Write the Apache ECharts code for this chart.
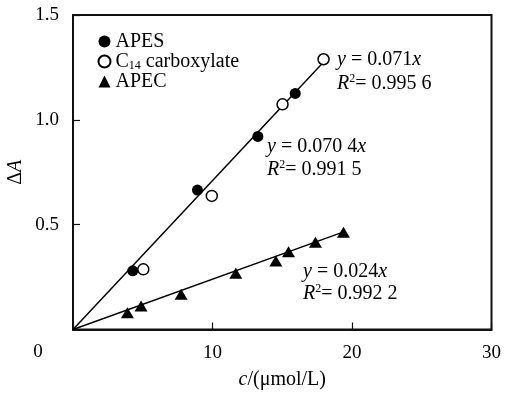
<!DOCTYPE html>
<html>
<head>
<meta charset="utf-8">
<script src="https://cdn.jsdelivr.net/npm/echarts@6/dist/echarts.min.js"></script>
<style>html,body{margin:0;padding:0;background:#fff}#c{width:519px;height:395px}</style>
</head>
<body>
<div id="c"></div>
<script>
// Data
const seriesNames = ['APES', 'C14 carboxylate', 'APEC'];
const apes = [[4.28, 0.280], [8.92, 0.665], [13.25, 0.921], [15.93, 1.126]];
const c14 = [[5.04, 0.287], [9.95, 0.637], [15.02, 1.074], [17.96, 1.289]];
const apec = [[3.90, 0.080], [4.88, 0.112], [7.75, 0.168], [11.67, 0.268], [14.54, 0.327], [15.45, 0.371], [17.38, 0.416], [19.39, 0.464]];
const fitSteep = [[0, 0], [18.1, 1.285]];
const fitApec = [[0, 0], [19.5, 0.468]];
const xTicks = [0, 10, 20, 30];
const yTicks = [0, 0.5, 1.0, 1.5];
const annotations = [
  { eq: '{i|y} = 0.071{i|x}', r2: '{i|R}{sup|2}= 0.995 6' },
  { eq: '{i|y} = 0.070 4{i|x}', r2: '{i|R}{sup|2}= 0.991 5' },
  { eq: '{i|y} = 0.024{i|x}', r2: '{i|R}{sup|2}= 0.992 2' }
];

const FONT = 'Liberation Serif';
const FS = 20;
const TFS = 19;
const annPos = [[337, 60, 84], [267, 147, 170], [303, 272, 294]];
const rich = {
  i: { fontStyle: 'italic', fontFamily: FONT, fontSize: FS, fill: '#000', lineHeight: 22 },
  n: { fontFamily: FONT, fontSize: FS, fill: '#000', lineHeight: 22 },
  sup: { fontFamily: FONT, fontSize: 12, fill: '#000', lineHeight: 22, padding: [0, 0, 10, 0] }
};
const graphics = [];
annotations.forEach((a, k) => {
  const p = annPos[k];
  [[a.eq, p[1]], [a.r2, p[2]]].forEach(([t, y]) => {
    graphics.push({
      type: 'text', x: p[0], y: y,
      style: { text: t, fontFamily: FONT, fontSize: FS, fill: '#000', verticalAlign: 'middle', align: 'left', rich: rich }
    });
  });
});
graphics.push({ type: 'text', x: 38, y: 352, style: { text: String(xTicks[0]), fontFamily: FONT, fontSize: TFS, fill: '#000', align: 'center', verticalAlign: 'middle' } });

const chart = echarts.init(document.getElementById('c'), null, { renderer: 'canvas' });
chart.setOption({
  animation: false,
  backgroundColor: '#fff',
  textStyle: { fontFamily: FONT },
  grid: { left: 73, right: 27.5, top: 15, bottom: 65.5, show: true, borderColor: '#111', borderWidth: 2, backgroundColor: 'transparent', containLabel: false, outerBoundsMode: 'none' },
  legend: {
    orient: 'vertical', left: 92.5, top: 26.5, padding: 5, itemWidth: 12, itemHeight: 12, itemGap: 0,
    data: seriesNames,
    textStyle: { fontFamily: FONT, fontSize: FS, color: '#000', lineHeight: 20, rich: { sub: { fontFamily: FONT, fontSize: 12, verticalAlign: 'bottom', lineHeight: 14, color: '#000' } } },
    formatter: n => n === 'C14 carboxylate' ? 'C{sub|14} carboxylate' : n
  },
  xAxis: {
    type: 'value', min: xTicks[0], max: xTicks[xTicks.length - 1], interval: 10,
    name: '{i|c}/(μmol/L)', nameLocation: 'middle', nameGap: 40.5, nameMoveOverlap: false,
    nameTextStyle: { fontFamily: FONT, fontSize: FS, color: '#000', rich: { i: { fontStyle: 'italic', fontFamily: FONT, fontSize: FS, color: '#000' } } },
    axisLine: { lineStyle: { color: '#111', width: 2 } },
    axisTick: { inside: true, length: 7, lineStyle: { color: '#111', width: 1.2 } },
    axisLabel: { fontFamily: FONT, fontSize: TFS, color: '#000', margin: 14, formatter: v => v === 0 ? '' : String(v) },
    splitLine: { show: false }
  },
  yAxis: {
    type: 'value', min: yTicks[0], max: yTicks[yTicks.length - 1], interval: 0.5,
    name: '{n|Δ}{i|A}', nameLocation: 'middle', nameGap: 47, nameMoveOverlap: false,
    nameTextStyle: { fontFamily: FONT, fontSize: FS, color: '#000', rich: { n: { fontFamily: FONT, fontSize: FS, color: '#000' }, i: { fontStyle: 'italic', fontFamily: FONT, fontSize: FS, color: '#000' } } },
    axisLine: { lineStyle: { color: '#111', width: 2 } },
    axisTick: { inside: true, length: 7, lineStyle: { color: '#111', width: 1.2 } },
    axisLabel: { fontFamily: FONT, fontSize: TFS, color: '#000', margin: 14, formatter: v => v === 0 ? '' : v.toFixed(1) },
    splitLine: { show: false }
  },
  series: [
    { type: 'line', data: fitSteep, symbol: 'none', lineStyle: { color: '#000', width: 1.5 }, silent: true, z: 1 },
    { type: 'line', data: fitApec, symbol: 'none', lineStyle: { color: '#000', width: 1.5 }, silent: true, z: 1 },
    { name: seriesNames[0], type: 'scatter', data: apes, symbol: 'circle', symbolSize: 11, itemStyle: { color: '#000', opacity: 1 }, z: 3 },
    { name: seriesNames[1], type: 'scatter', data: c14, symbol: 'circle', symbolSize: 11, itemStyle: { color: '#fff', borderColor: '#000', borderWidth: 1.5, opacity: 1 }, z: 3 },
    { name: seriesNames[2], type: 'scatter', data: apec, symbol: 'triangle', symbolSize: [13, 11], itemStyle: { color: '#000', opacity: 1 }, z: 3 }
  ],
  graphic: graphics
});
</script>
</body>
</html>
